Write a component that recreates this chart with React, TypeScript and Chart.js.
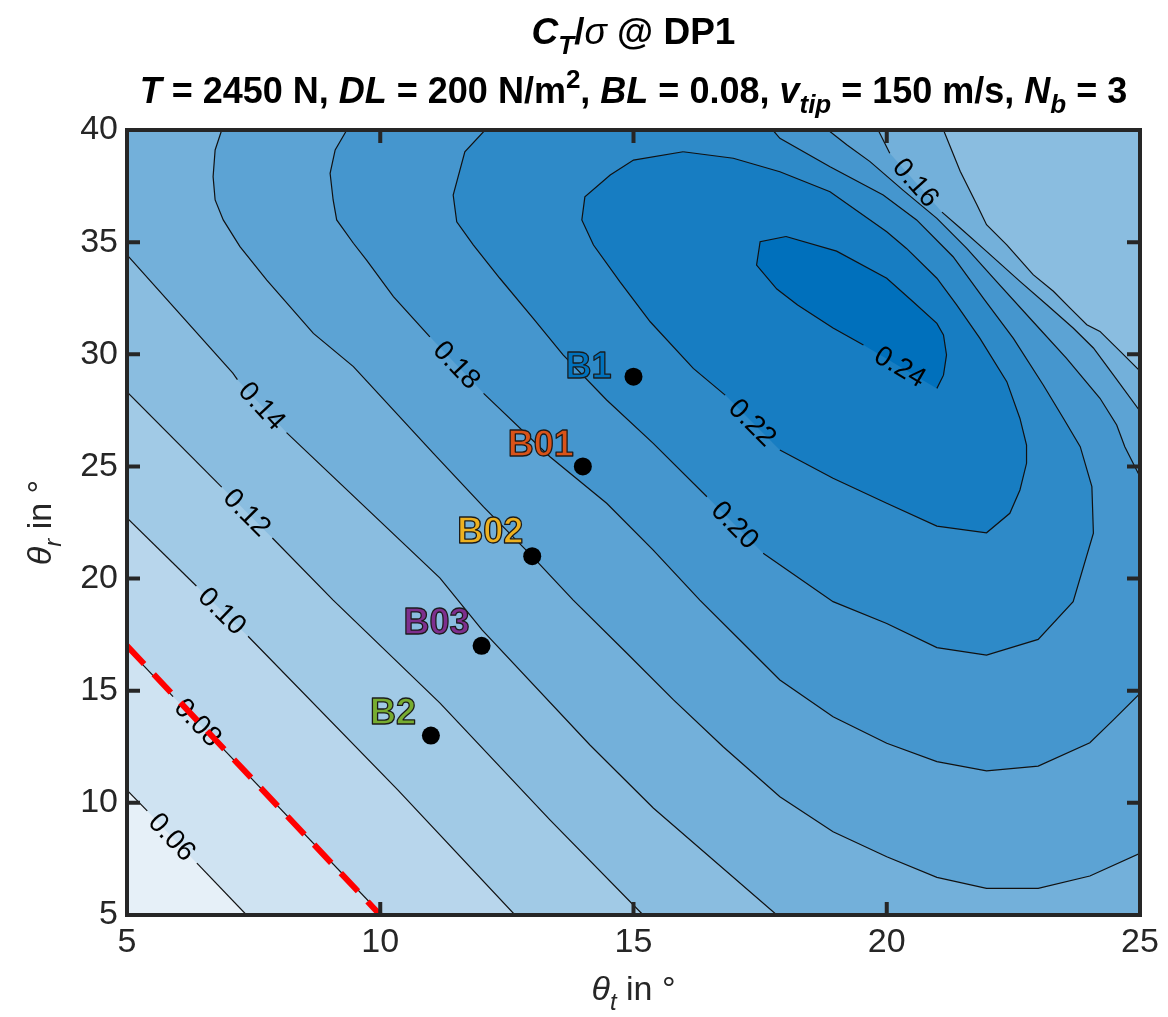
import React, { useEffect, useRef } from 'react';
import { Chart, registerables } from 'chart.js';

Chart.register(...registerables);

type Pt = [number, number] | null;

// ---------- axes ----------
const X_MIN = 5;
const X_MAX = 25;
const Y_MIN = 5;
const Y_MAX = 40;
const X_TICKS = [5, 10, 15, 20, 25];
const Y_TICKS = [5, 10, 15, 20, 25, 30, 35, 40];

// ---------- contour levels (C_T / sigma) ----------
const LEVELS = [0.06, 0.08, 0.1, 0.12, 0.14, 0.16, 0.18, 0.2, 0.22, 0.24];

// band colours: below 0.06, 0.06-0.08, ..., above 0.24
const BAND_COLORS = [
  '#E6F0F8', '#CFE3F2', '#B8D6EC', '#A1CAE6', '#8ABDE0', '#73B0DA',
  '#5CA3D4', '#4596CE', '#2E8AC8', '#177DC2', '#0070BC',
];

// contour paths (theta_t, theta_r); null = label gap
const C006: Pt[] = [[5, 10.57], [5.4, 9.64], null, [6.38, 7.31], [7.36, 5]];
const C008: Pt[] = [[5, 16.9], [5.91, 14.74], null, [6.89, 12.43], [10.03, 5]];
const C010: Pt[] = [[5, 22.7], [6.37, 19.67], null, [7.39, 17.43], [10.35, 10.57], [12.66, 5]];
const C012: Pt[] = [[5, 28.32], [6.87, 24.08], null, [7.87, 21.81], [9.07, 19.04], [11.18, 14.45], [13.35, 9.24], [15.19, 5]];
const C014: Pt[] = [[5, 34.43], [7.09, 29.16], [7.18, 28.87], null, [8.15, 26.51], [11.18, 20.02], [12.01, 17.71], [14.14, 12.58], [15.39, 9.77], [17.83, 5]];
const C014_TR: Pt[] = [[21.12, 40], [21.45, 38.16], [21.78, 36.67], [21.97, 35.78], [22.37, 34.88], [22.89, 33.55], [23.29, 32.81], [23.62, 32.06], [23.95, 31.32], [24.21, 31.02], [24.61, 30.13], [25, 29.25]];
const C016: Pt[] = [[6.87, 40], [6.74, 39.11], [6.7, 37.92], [6.74, 36.88], [6.9, 35.99], [7.23, 34.8], [7.76, 33.31], [8.68, 30.93], [9.47, 29.45], [11.05, 25.58], [12.04, 23.2], [13.01, 20.97], [13.81, 19.04], [14.87, 16.67], [15.79, 14.59], [16.77, 12.5], [17.89, 10.27], [18.94, 8.71], [20.0, 7.6], [20.99, 6.68], [21.97, 6.19], [22.99, 6.19], [24.01, 6.74], [25, 7.75]];
const C016_TR: Pt[] = [[19.83, 40], [20.06, 38.96], null, [21.09, 36.34], [21.45, 35.63], [21.97, 34.59], [22.63, 33.25], [23.16, 32.21], [23.68, 31.17], [24.08, 30.28], [24.47, 29.09], [25, 27.46]];
const C018: Pt[] = [[9.34, 40], [9.11, 39.11], [9.01, 38.07], [9.07, 36.88], [9.14, 35.99], [9.47, 34.95], [9.73, 34.2], [10.26, 32.57], [10.98, 30.78], null, [12.04, 28.26], [13.35, 25.43], [14.47, 23.36], [15.39, 21.27], [16.31, 19.04], [17.1, 17.26], [17.89, 15.48], [18.94, 13.84], [20.0, 12.66], [20.99, 11.84], [21.97, 11.43], [22.99, 11.64], [24.01, 12.68], [24.47, 13.69], [25, 14.88]];
const C018_TR: Pt[] = [[18.84, 40], [19.21, 39.34], [19.67, 38.59], [20.32, 37.32], [20.99, 36.06], [21.58, 34.72], [22.17, 33.24], [22.89, 31.45], [23.55, 29.82], [24.21, 28.04], [24.54, 26.85], [24.7, 25.88], [25, 24.54]];
const C020: Pt[] = [[12.07, 40], [11.67, 39.03], [11.44, 37.1], [11.51, 35.91], [11.84, 34.87], [12.36, 33.39], [13.02, 31.6], [13.61, 29.97], [14.47, 27.96], [15.39, 26.03], [16.45, 23.65], null, [17.56, 21.13], [18.94, 18.97], [20.0, 18.0], [20.99, 16.92], [21.97, 16.59], [22.99, 17.29], [23.68, 18.97], [24.08, 22.02], [24.05, 24.1], [23.82, 25.88], [23.49, 27.14], [23.09, 28.63], [22.5, 30.71], [21.91, 32.49], [21.31, 34.35], [20.59, 35.99], [19.93, 37.1], [18.88, 38.36], [17.89, 39.63], [17.75, 40]];
const C022: Pt[] = [[15.98, 39.03], [16.97, 38.74], [17.89, 38.14], [18.88, 37.25], [20.0, 35.46], [20.39, 34.72], [20.99, 33.39], [21.38, 32.2], [21.84, 30.71], [22.37, 28.78], [22.63, 27.14], [22.76, 25.95], [22.76, 25.14], [22.63, 23.95], [22.43, 22.91], [21.97, 22.04], [20.99, 22.34], [20.0, 23.36], [18.94, 24.47], [17.89, 25.73], null, [16.81, 28.18], [16.18, 29.37], [15.33, 31.45], [14.73, 33.24], [14.21, 34.87], [13.98, 35.99], [14.04, 37.02], [14.54, 37.99], [15.0, 38.66], [15.98, 39.03]];
const C024: Pt[] = [[18.01, 35.25], [17.5, 35.02], [17.43, 33.98], [17.83, 32.91], [18.24, 32.2], [18.94, 31.17], [19.54, 30.41], null, [20.99, 28.48], [21.12, 29.07], [21.18, 29.97], [21.12, 30.86], [20.99, 31.38], [20.52, 32.34], [20.0, 33.39], [19.01, 34.6], [18.01, 35.25]];

// design points
const POINT_NAMES = ['B1', 'B01', 'B02', 'B03', 'B2'];
const POINT_X = [15, 14, 13, 12, 11];
const POINT_Y = [29, 25, 21, 17, 13];
const POINT_COLORS = ['#0072BD', '#D95319', '#EDB120', '#7E2F8E', '#77AC30'];

// red dashed limit line
const LIMIT_X = [5, 10];
const LIMIT_Y = [17, 5];

// ---------- helpers ----------
const FONT = '"Liberation Sans", Arial, Helvetica, sans-serif';
const solid = (p: Pt[]) => p.filter((q) => q !== null) as [number, number][];
const rev = (p: Pt[]) => solid(p).slice().reverse();
const pieces = (p: Pt[]) => {
  const out: [number, number][][] = [];
  let cur: [number, number][] = [];
  p.forEach((q) => {
    if (q === null) {
      if (cur.length) out.push(cur);
      cur = [];
    } else cur.push(q);
  });
  if (cur.length) out.push(cur);
  return out;
};
const toXY = (pts: [number, number][]) => pts.map((p) => ({ x: p[0], y: p[1] }));

const CONTOURS = [
  { level: LEVELS[0], path: C006 },
  { level: LEVELS[1], path: C008 },
  { level: LEVELS[2], path: C010 },
  { level: LEVELS[3], path: C012 },
  { level: LEVELS[4], path: C014 },
  { level: LEVELS[4], path: C014_TR },
  { level: LEVELS[5], path: C016 },
  { level: LEVELS[5], path: C016_TR },
  { level: LEVELS[6], path: C018 },
  { level: LEVELS[6], path: C018_TR },
  { level: LEVELS[7], path: C020 },
  { level: LEVELS[8], path: C022 },
  { level: LEVELS[9], path: C024 },
];

const BL: [number, number] = [X_MIN, Y_MIN];
const BR: [number, number] = [X_MAX, Y_MIN];
const TR: [number, number] = [X_MAX, Y_MAX];
const TL: [number, number] = [X_MIN, Y_MAX];

// regions "value >= level", painted in increasing order
const REGIONS: [number, number][][] = [
  [BL, BR, TR, TL],
  [...solid(C006), BR, TR, TL],
  [...solid(C008), BR, TR, TL],
  [...solid(C010), BR, TR, TL],
  [...solid(C012), BR, TR, TL],
  [...solid(C014), BR, ...rev(C014_TR), TL],
  [...solid(C016), ...rev(C016_TR)],
  [...solid(C018), ...rev(C018_TR)],
  solid(C020),
  solid(C022),
  solid(C024),
];

type Seg = { t: string; f: string; dy?: number };
function drawRich(ctx: CanvasRenderingContext2D, segs: Seg[], cx: number, by: number) {
  let w = 0;
  const ws = segs.map((s) => {
    ctx.font = s.f;
    const m = ctx.measureText(s.t).width;
    w += m;
    return m;
  });
  let x = cx - w / 2;
  ctx.textAlign = 'left';
  ctx.textBaseline = 'alphabetic';
  segs.forEach((s, i) => {
    ctx.font = s.f;
    ctx.fillText(s.t, x, by + (s.dy || 0));
    x += ws[i];
  });
}

const fb = (s: number) => `bold ${s}px ${FONT}`;
const fbi = (s: number) => `italic bold ${s}px ${FONT}`;
const fi = (s: number) => `italic ${s}px ${FONT}`;
const fr = (s: number) => `${s}px ${FONT}`;

const regionFillPlugin = {
  id: 'regionFill',
  beforeDatasetsDraw(chart: any) {
    const { ctx, chartArea: a } = chart;
    ctx.save();
    ctx.beginPath();
    ctx.rect(a.left, a.top, a.right - a.left, a.bottom - a.top);
    ctx.clip();
    chart.data.datasets.forEach((ds: any, i: number) => {
      if (!ds.regionColor) return;
      const pts = chart.getDatasetMeta(i).data;
      ctx.beginPath();
      pts.forEach((p: any, j: number) => (j ? ctx.lineTo(p.x, p.y) : ctx.moveTo(p.x, p.y)));
      ctx.closePath();
      ctx.fillStyle = ds.regionColor;
      ctx.fill();
    });
    ctx.restore();
  },
};

const contourLabelPlugin = {
  id: 'contourLabels',
  beforeDatasetDraw(chart: any, args: any) {
    const ds = chart.data.datasets[args.index];
    if (ds.label !== 'limit') return;
    const { ctx } = chart;
    const xs = chart.scales.x;
    const ys = chart.scales.y;
    ctx.save();
    ctx.fillStyle = '#000';
    ctx.font = fr(28);
    ctx.textAlign = 'center';
    ctx.textBaseline = 'middle';
    CONTOURS.forEach((c) => {
      c.path.forEach((p, k) => {
        if (p !== null) return;
        const a = c.path[k - 1] as [number, number];
        const b = c.path[k + 1] as [number, number];
        const ax = xs.getPixelForValue(a[0]);
        const ay = ys.getPixelForValue(a[1]);
        const bx = xs.getPixelForValue(b[0]);
        const by = ys.getPixelForValue(b[1]);
        let ang = Math.atan2(by - ay, bx - ax);
        if (ang > Math.PI / 2) ang -= Math.PI;
        if (ang < -Math.PI / 2) ang += Math.PI;
        ctx.save();
        ctx.translate((ax + bx) / 2, (ay + by) / 2);
        ctx.rotate(ang);
        ctx.fillText(c.level.toFixed(2), 0, 1);
        ctx.restore();
      });
    });
    ctx.restore();
  },
};

const PT_LABEL_DX = [-22, -9, -9, -12, -15];
const PT_LABEL_DY = [1, -10, -13, -12, -12];

const pointLabelPlugin = {
  id: 'pointLabels',
  afterDatasetsDraw(chart: any) {
    const { ctx } = chart;
    const xs = chart.scales.x;
    const ys = chart.scales.y;
    ctx.save();
    ctx.font = fb(36);
    ctx.textAlign = 'right';
    ctx.textBaseline = 'alphabetic';
    ctx.lineJoin = 'round';
    POINT_NAMES.forEach((n, i) => {
      const x = xs.getPixelForValue(POINT_X[i]) + PT_LABEL_DX[i];
      const y = ys.getPixelForValue(POINT_Y[i]) + PT_LABEL_DY[i];
      ctx.fillStyle = POINT_COLORS[i];
      ctx.fillText(n, x, y);
      ctx.strokeStyle = '#1a1a1a';
      ctx.lineWidth = 1.3;
      ctx.strokeText(n, x, y);
    });
    ctx.restore();
  },
};

const framePlugin = {
  id: 'frame',
  afterDraw(chart: any) {
    const { ctx, chartArea: a } = chart;
    const xs = chart.scales.x;
    const ys = chart.scales.y;
    ctx.save();
    ctx.strokeStyle = '#262626';
    ctx.lineWidth = 4;
    ctx.lineJoin = 'miter';
    ctx.lineCap = 'butt';
    const tl = 13;
    ctx.beginPath();
    X_TICKS.forEach((v) => {
      const px = xs.getPixelForValue(v);
      ctx.moveTo(px, a.bottom);
      ctx.lineTo(px, a.bottom - tl);
      ctx.moveTo(px, a.top);
      ctx.lineTo(px, a.top + tl);
    });
    Y_TICKS.forEach((v) => {
      const py = ys.getPixelForValue(v);
      ctx.moveTo(a.left, py);
      ctx.lineTo(a.left + tl, py);
      ctx.moveTo(a.right, py);
      ctx.lineTo(a.right - tl, py);
    });
    ctx.stroke();
    ctx.strokeRect(a.left, a.top, a.right - a.left, a.bottom - a.top);

    // titles
    const cx = (a.left + a.right) / 2;
    ctx.fillStyle = '#000';
    drawRich(
      ctx,
      [
        { t: 'C', f: fbi(37) },
        { t: 'T', f: fbi(26), dy: 10 },
        { t: '/', f: fb(37) },
        { t: 'σ', f: fi(37) },
        { t: ' @ DP1', f: fb(37) },
      ],
      cx,
      44
    );
    drawRich(
      ctx,
      [
        { t: 'T', f: fbi(36) },
        { t: ' = 2450 N, ', f: fb(36) },
        { t: 'DL', f: fbi(36) },
        { t: ' = 200 N/m', f: fb(36) },
        { t: '2', f: fb(26), dy: -15 },
        { t: ', ', f: fb(36) },
        { t: 'BL', f: fbi(36) },
        { t: ' = 0.08, ', f: fb(36) },
        { t: 'v', f: fbi(36) },
        { t: 'tip', f: fbi(26), dy: 10 },
        { t: ' = 150 m/s, ', f: fb(36) },
        { t: 'N', f: fbi(36) },
        { t: 'b', f: fbi(26), dy: 10 },
        { t: ' = 3', f: fb(36) },
      ],
      cx,
      103
    );

    // axis labels
    ctx.fillStyle = '#262626';
    const xLab: Seg[] = [
      { t: 'θ', f: fi(34) },
      { t: 't', f: fi(24), dy: 10 },
      { t: ' in °', f: fr(34) },
    ];
    drawRich(ctx, xLab, cx, 1000);
    const yLab: Seg[] = [
      { t: 'θ', f: fi(34) },
      { t: 'r', f: fi(24), dy: 10 },
      { t: ' in °', f: fr(34) },
    ];
    ctx.save();
    ctx.translate(51, (a.top + a.bottom) / 2);
    ctx.rotate(-Math.PI / 2);
    drawRich(ctx, yLab, 0, 0);
    ctx.restore();
    ctx.restore();
  },
};

function buildConfig(): any {
  const datasets: any[] = [];
  datasets.push({
    label: 'points',
    data: POINT_X.map((x, i) => ({ x, y: POINT_Y[i] })),
    showLine: false,
    pointRadius: 9,
    pointBackgroundColor: '#000',
    pointBorderWidth: 0,
    order: 1,
  });
  datasets.push({
    label: 'limit',
    data: LIMIT_X.map((x, i) => ({ x, y: LIMIT_Y[i] })),
    showLine: true,
    borderColor: '#FF0000',
    borderWidth: 6,
    borderDash: [25, 14],
    pointRadius: 0,
    fill: false,
    order: 10,
  });
  CONTOURS.forEach((c) => {
    pieces(c.path).forEach((piece) => {
      datasets.push({
        label: 'c' + c.level,
        data: toXY(piece),
        showLine: true,
        borderColor: '#111',
        borderWidth: 1.2,
        pointRadius: 0,
        tension: 0,
        fill: false,
        order: 50,
      });
    });
  });
  REGIONS.forEach((r, i) => {
    datasets.push({
      label: 'region' + i,
      data: toXY(r),
      showLine: false,
      pointRadius: 0,
      regionColor: BAND_COLORS[i],
      order: 100,
    });
  });

  const tickFont = { family: FONT, size: 34 };
  return {
    type: 'scatter',
    data: { datasets },
    options: {
      animation: false,
      responsive: false,
      maintainAspectRatio: false,
      devicePixelRatio: 1,
      events: [],
      layout: { padding: { top: 130, right: 28, left: 0, bottom: 0 } },
      plugins: {
        legend: { display: false },
        tooltip: { enabled: false },
        title: { display: false },
      },
      scales: {
        x: {
          type: 'linear',
          min: X_MIN,
          max: X_MAX,
          grid: { display: false, drawTicks: false },
          border: { display: false },
          afterBuildTicks: (s: any) => {
            s.ticks = X_TICKS.map((v) => ({ value: v }));
          },
          ticks: {
            font: tickFont,
            color: '#262626',
            padding: 7,
            maxRotation: 0,
            autoSkip: false,
            callback: (v: any) => String(v),
          },
          afterFit: (s: any) => {
            s.height = 102;
          },
        },
        y: {
          type: 'linear',
          min: Y_MIN,
          max: Y_MAX,
          grid: { display: false, drawTicks: false },
          border: { display: false },
          afterBuildTicks: (s: any) => {
            s.ticks = Y_TICKS.map((v) => ({ value: v }));
          },
          ticks: {
            font: tickFont,
            color: '#262626',
            padding: 9,
            autoSkip: false,
            callback: (v: any) => String(v),
          },
          afterFit: (s: any) => {
            s.width = 127;
          },
        },
      },
    },
    plugins: [regionFillPlugin, contourLabelPlugin, pointLabelPlugin, framePlugin],
  };
}

export default function App() {
  const ref = useRef<HTMLCanvasElement>(null);
  useEffect(() => {
    const chart = new Chart(ref.current as HTMLCanvasElement, buildConfig());
    return () => chart.destroy();
  }, []);
  return (
    <div style={{ position: 'absolute', left: 0, top: 0, width: 1168, height: 1017, background: '#fff' }}>
      <canvas ref={ref} width={1168} height={1017} style={{ width: 1168, height: 1017, display: 'block' }} />
    </div>
  );
}
